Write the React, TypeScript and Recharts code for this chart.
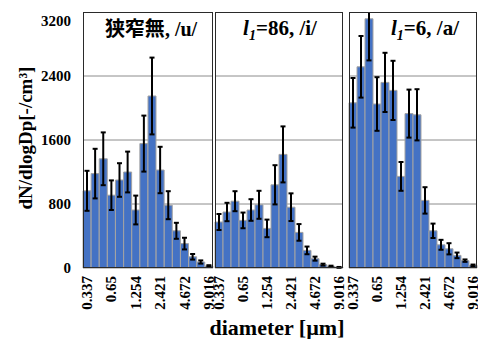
import { BarChart, Bar, XAxis, YAxis, CartesianGrid, ErrorBar } from "recharts"

// particle diameter classes (µm); only every third one is labelled
const diameters = ["0.337", "0.42", "0.523", "0.65", "0.81", "1.008", "1.254", "1.561", "1.944", "2.421", "3.014", "3.752", "4.672", "5.817", "7.243", "9.016"]

const uMean = [965, 1180, 1365, 910, 1100, 1200, 725, 1555, 2150, 1225, 785, 465, 305, 140, 75, 25]
const uErr = [250, 310, 330, 185, 210, 255, 180, 350, 480, 290, 175, 100, 73, 35, 20, 10]
const iMean = [575, 700, 835, 595, 725, 790, 495, 1040, 1420, 760, 445, 220, 117, 42, 21, 8]
const iErr = [100, 115, 125, 98, 135, 175, 110, 245, 350, 173, 104, 48, 25, 12, 8, 5]
const aMean = [2065, 2515, 3115, 2050, 2320, 2220, 1145, 1930, 1915, 845, 465, 290, 240, 158, 92, 33]
const aErr = [310, 385, 520, 335, 370, 370, 180, 300, 320, 165, 90, 62, 70, 35, 15, 10]

const yTicks = [0, 800, 1600, 2400, 3200]

const serif = '"Liberation Serif", "Times New Roman", "Noto Sans CJK JP", serif'

const rows = (mean: number[], err: number[]) =>
	diameters.map((d, i) => ({ d, v: mean[i], e: err[i] }))

const RotTick = (props: any) => {
	const { x, y, payload } = props
	return (
		<text
			x={x}
			y={y}
			transform={`rotate(-90 ${x} ${y})`}
			textAnchor="end"
			dominantBaseline="central"
			fontFamily={serif}
			fontWeight="bold"
			fontSize={15}
			fill="#000"
		>
			{payload.value}
		</text>
	)
}

function Panel({ data, showY, width, right }: { data: any[]; showY: boolean; width: number; right: number }) {
	return (
		<BarChart
			width={width}
			height={327}
			data={data}
			margin={{ top: 0, right, left: 0, bottom: 0 }}
			barCategoryGap={0}
		>
			<CartesianGrid vertical={false} stroke="#8c8c8c" strokeWidth={1} />
			<XAxis
				dataKey="d"
				interval={2}
				height={71}
				tickLine={false}
				axisLine={false}
				tick={<RotTick />}
			/>
			<YAxis
				domain={[0, 3200]}
				ticks={yTicks}
				allowDataOverflow
				hide={!showY}
				width={83}
				tickLine={false}
				axisLine={false}
				tickMargin={6}
				tick={{ fontFamily: serif, fontWeight: "bold", fontSize: 15, fill: "#000" }}
			/>
			<Bar dataKey="v" fill="#4472C4" stroke="#a3a3a3" strokeWidth={1} isAnimationActive={false}>
				<ErrorBar dataKey="e" direction="y" stroke="#000" strokeWidth={2} width={2.5} />
			</Bar>
		</BarChart>
	)
}

// each chart starts at the top of its plot box; clip-path cuts whatever pokes above it
const panelWrap = (left: number): React.CSSProperties => ({
	position: "absolute",
	left,
	top: 12,
	clipPath: "inset(0px -40px -40px -40px)",
})

const boxStyle = (left: number, width: number): React.CSSProperties => ({
	position: "absolute",
	left,
	top: 12,
	width,
	height: 256,
	border: "1.5px solid #2a2a2a",
	boxSizing: "border-box",
	pointerEvents: "none",
})

const titleStyle = (center: number): React.CSSProperties => ({
	position: "absolute",
	left: center - 70,
	width: 140,
	top: 16,
	textAlign: "center",
	fontFamily: serif,
	fontWeight: "bold",
	fontSize: 21,
	lineHeight: "24px",
	color: "#000",
	whiteSpace: "nowrap",
})

export default function App() {
	return (
		<div style={{ position: "absolute", left: 0, top: 0, width: 478, height: 339, background: "#fff", overflow: "hidden" }}>
			<style>{".recharts-surface{overflow:visible}"}</style>
			<div style={panelWrap(0)}>
				<Panel data={rows(uMean, uErr)} showY width={215} right={2} />
			</div>
			<div style={panelWrap(215)}>
				<Panel data={rows(iMean, iErr)} showY={false} width={128} right={0} />
			</div>
			<div style={panelWrap(349)}>
				<Panel data={rows(aMean, aErr)} showY={false} width={129} right={1} />
			</div>

			<div style={boxStyle(83, 130)} />
			<div style={boxStyle(215, 128)} />
			<div style={boxStyle(349, 128)} />

			<div style={{ ...titleStyle(151), fontSize: 20, fontFamily: '"Noto Sans CJK JP", ' + serif }}>
				狭窄無<span style={{ fontFamily: serif }}>, /u/</span>
			</div>
			<div style={titleStyle(280)}>
				<i>l</i><sub style={{ fontSize: 14, fontStyle: "italic" }}>1</sub>=86, /i/
			</div>
			<div style={titleStyle(425)}>
				<i>l</i><sub style={{ fontSize: 14, fontStyle: "italic" }}>1</sub>=6, /a/
			</div>

			<div
				style={{
					position: "absolute",
					left: 26 - 90,
					top: 138 - 12,
					width: 180,
					height: 24,
					lineHeight: "24px",
					textAlign: "center",
					transform: "rotate(-90deg)",
					fontFamily: serif,
					fontWeight: "bold",
					fontSize: 19,
					whiteSpace: "nowrap",
				}}
			>
				dN/dlogDp[-/cm³]
			</div>

			<div
				style={{
					position: "absolute",
					left: 277 - 100,
					width: 200,
					top: 317,
					textAlign: "center",
					fontFamily: serif,
					fontWeight: "bold",
					fontSize: 22,
					lineHeight: "22px",
					whiteSpace: "nowrap",
				}}
			>
				diameter [µm]
			</div>
		</div>
	)
}
